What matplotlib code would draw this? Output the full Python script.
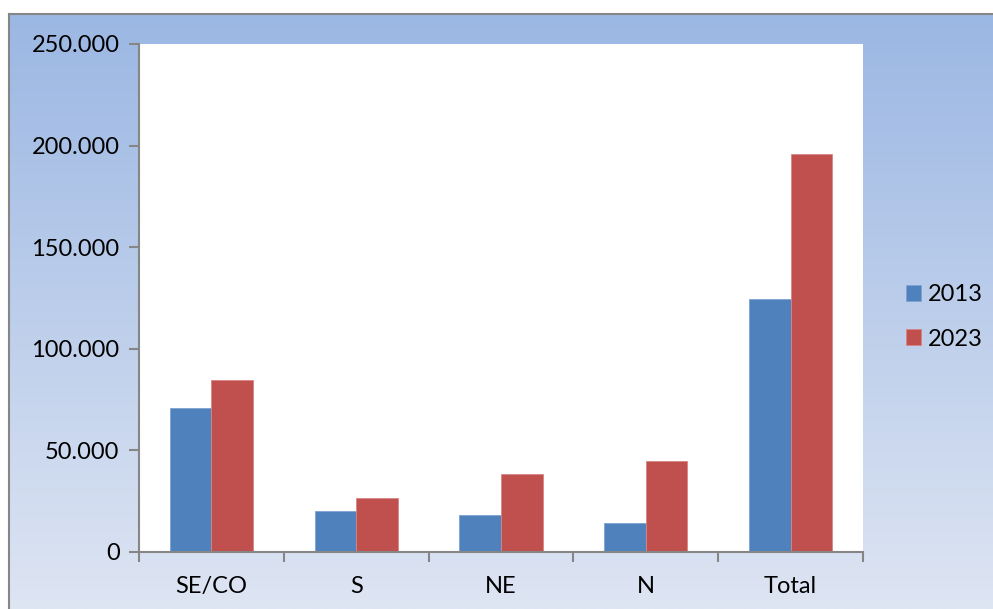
import numpy as np
import matplotlib.pyplot as plt
from matplotlib.ticker import FuncFormatter, MultipleLocator
from matplotlib.colors import LinearSegmentedColormap

categories = ['SE/CO', 'S', 'NE', 'N', 'Total']
values_2013 = [71000, 20200, 18300, 14300, 124500]
values_2023 = [84700, 26700, 38400, 44800, 195800]
series_labels = ['2013', '2023']

plt.rcParams['font.family'] = ['Lato', 'DejaVu Sans']

W, H = 993, 609
fig = plt.figure(figsize=(W / 100, H / 100), dpi=100)
fig.patch.set_facecolor('white')

# gradient background of the chart area
bg = fig.add_axes([9 / W, 0, 1 - 9 / W, (H - 14) / H], zorder=0)
grad = np.linspace(0, 1, 256).reshape(-1, 1)
cmap = LinearSegmentedColormap.from_list('bg', ['#9bb7e3', '#dee5f3'])
bg.imshow(grad, aspect='auto', cmap=cmap, extent=[0, 1, 0, 1], origin='upper')
bg.set_xticks([])
bg.set_yticks([])
for side in ['right', 'bottom']:
    bg.spines[side].set_visible(False)
for side in ['left', 'top']:
    bg.spines[side].set_color('#868686')
    bg.spines[side].set_linewidth(1.5)

ax = fig.add_axes([139 / W, (H - 552) / H, (863 - 139) / W, (552 - 44) / H], zorder=1)
ax.set_facecolor('white')

x = np.arange(len(categories))
w = 0.287
ax.bar(x - w / 2, values_2013, w, color='#4f81bd', edgecolor='#7fa2d0', linewidth=0.6, label=series_labels[0])
ax.bar(x + w / 2, values_2023, w, color='#c0504d', edgecolor='#d98583', linewidth=0.6, label=series_labels[1])

ax.set_xlim(-0.5, len(categories) - 0.5)
ax.set_ylim(0, 250000)
ax.yaxis.set_major_locator(MultipleLocator(50000))
ax.yaxis.set_major_formatter(FuncFormatter(lambda v, p: '0' if v == 0 else f'{int(v):,}'.replace(',', '.')))

ax.set_xticks(x)
ax.set_xticklabels(categories)
ax.set_xticks(np.arange(-0.5, len(categories), 1), minor=True)
ax.tick_params(axis='x', which='major', length=0, pad=17, labelsize=17)
ax.tick_params(axis='x', which='minor', length=7, width=1.5, color='#868686', direction='out')
ax.tick_params(axis='y', which='major', length=7, width=1.5, color='#868686', labelsize=17, pad=7)

for side in ['top', 'right']:
    ax.spines[side].set_visible(False)
for side in ['left', 'bottom']:
    ax.spines[side].set_color('#868686')
    ax.spines[side].set_linewidth(1.5)

ax.legend(loc='center left', bbox_to_anchor=(1.059, 0.463), frameon=False, fontsize=17,
          borderpad=0, borderaxespad=0,
          handlelength=0.65, handleheight=0.65, handletextpad=0.3, labelspacing=1.0)

fig.savefig('out.png', dpi=100)
